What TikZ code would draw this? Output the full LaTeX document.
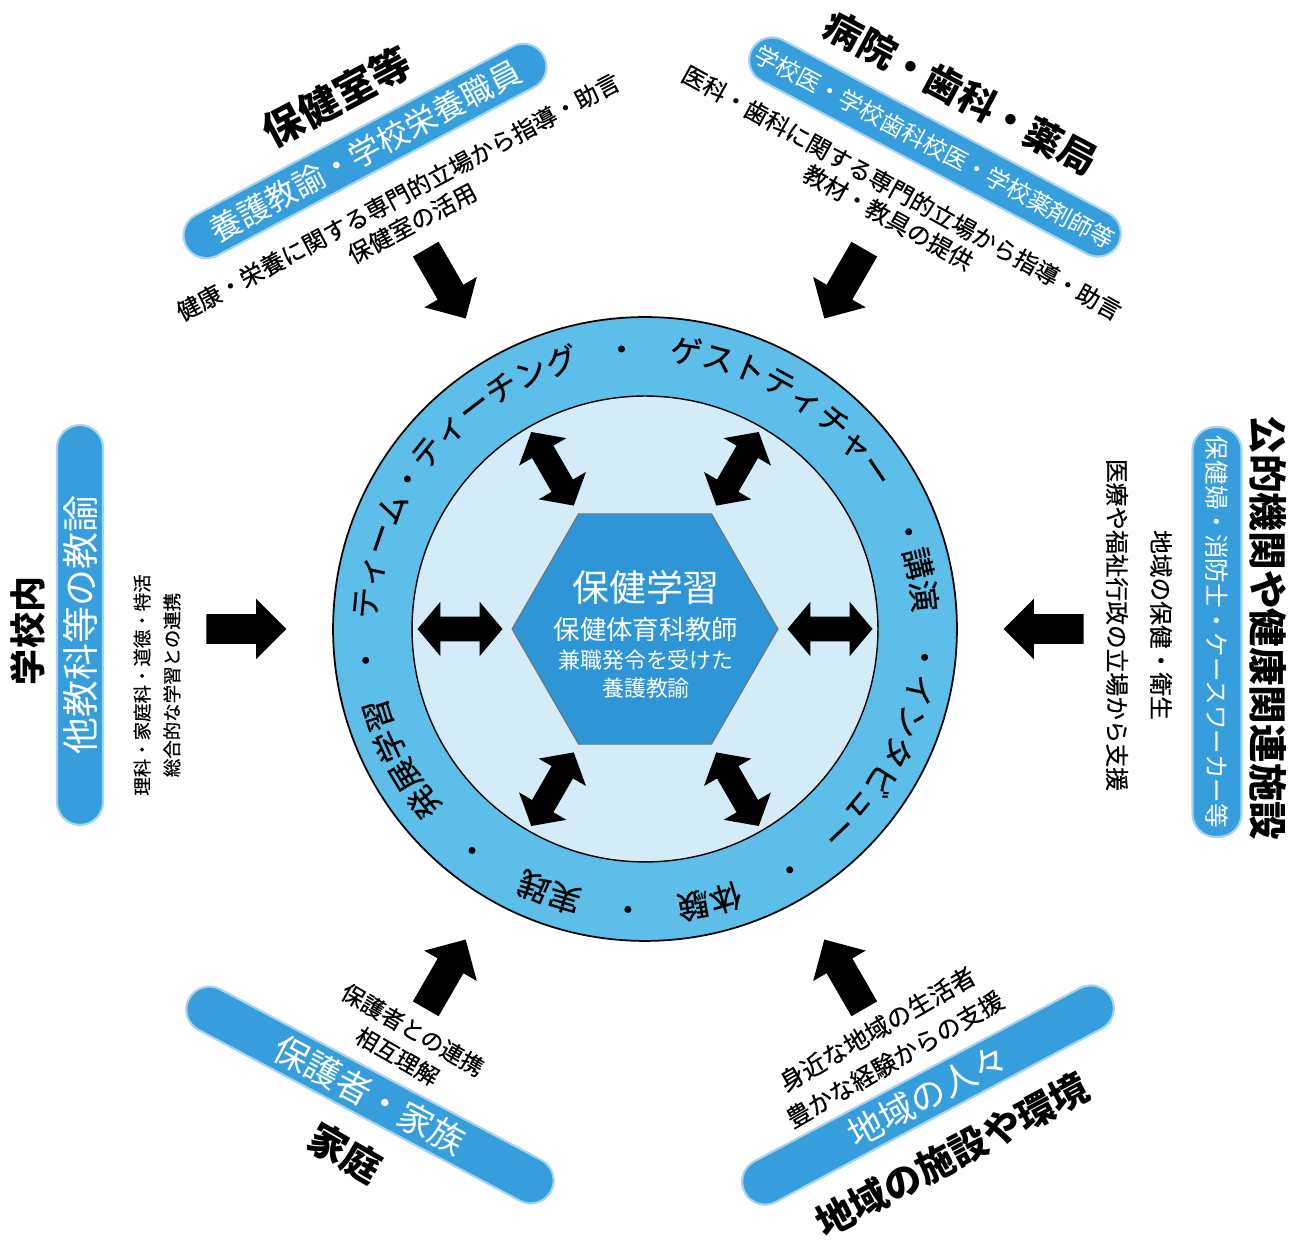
\documentclass[tikz,border=0pt]{standalone}
\usepackage{fontspec}
\setmainfont{Noto Sans CJK JP}
\newfontfamily\medfont{Noto Sans CJK JP}[FakeBold=0.6]
\usetikzlibrary{shapes.geometric, shapes.arrows, decorations.text}

\definecolor{ringblue}{RGB}{92,190,233}
\definecolor{coreblue}{RGB}{211,236,248}
\definecolor{hexblue}{RGB}{46,150,214}
\definecolor{pillblue}{RGB}{54,158,221}

\newcommand\fs[2]{\fontsize{#1}{#2}\selectfont}
\newcommand\ringfont{\medfont\fs{18pt}{20pt}}
% one piece of the text that runs round the ring, centred on an angle
\newcommand\ringseg[2]{%
  \path[decorate, decoration={text along path, text align=center, text={|\ringfont|#2}}]
    (ctr) ++({#1+50}:269) arc[start angle={#1+50}, delta angle=-100, radius=269];}

\begin{document}
\begin{tikzpicture}[
    x=0.02cm, y=0.02cm,
    pill/.style = {rectangle, rounded corners=0.46cm, fill=pillblue, draw=pillblue!45, line width=1.2pt, text=white, minimum width=8cm, minimum height=0.92cm, inner sep=0pt},
    heading/.style = {font=\fs{22pt}{26pt}\bfseries, inner sep=0pt},
    remark/.style = {font=\medfont\fs{13.5pt}{17pt}, align=center, inner sep=0pt},
    hexline/.style = {text=white, inner sep=0pt},
    inarrow/.style = {single arrow, fill=black, minimum height=1.6cm, minimum width=0pt, inner sep=0.29cm, single arrow head extend=0.31cm, single arrow tip angle=90},
    duoarrow/.style = {double arrow, fill=black, minimum height=1.7cm, minimum width=0pt, inner sep=0.24cm, double arrow head extend=0.3cm, double arrow tip angle=100}]

    \useasboundingbox (0,0) rectangle (1301,1240);
    \coordinate (ctr) at (645,611);

    % rings and centre
    \node[circle, draw, line width=1pt, fill=ringblue, minimum size=12.48cm, inner sep=0pt] (outer) at (ctr) {};
    \node[circle, draw, line width=0.8pt, fill=coreblue, minimum size=9.32cm, inner sep=0pt] (inner) at (ctr) {};
    \node[regular polygon, regular polygon sides=6, minimum size=5.32cm, inner sep=0pt, fill=hexblue, draw=black!55, line width=0.6pt] (hex) at (ctr) {};
    \node[hexline, font=\fs{21pt}{24pt}] (hexhead) at (646,653) {保健学習};
    \node[hexline, font=\fs{15pt}{18pt}] (hexteacher) at (646,610) {保健体育科教師};
    \node[hexline, font=\fs{12.5pt}{15pt}] (hexnurse1) at (646,580) {兼職発令を受けた};
    \node[hexline, font=\fs{12.5pt}{15pt}] (hexnurse2) at (646,552) {養護教諭};

    \foreach \a [count=\i] in {0,60,...,300}{
        \node[duoarrow, rotate=\a] (link\i) at ([shift={(\a:185)}]ctr) {};
        \node[inarrow, rotate=\a+180] (feed\i) at ([shift={(\a:406)}]ctr) {};
    }

    % text round the ring
    \ringseg{141}{ティーム・ティーチング}
    \ringseg{94.8}{・}
    \ringseg{58}{ゲストティチャー}
    \ringseg{13.5}{・講演}
    \ringseg{-26}{・インタビュー}
    \ringseg{-59}{・}
    \ringseg{-76.7}{体験}
    \ringseg{-93.5}{・}
    \ringseg{-110}{実践}
    \ringseg{-128}{・}
    \ringseg{-152}{発展学習}
    \ringseg{-173.6}{・}

    % upper left
    \node[heading, rotate=28, font=\fs{23pt}{26pt}\bfseries] (headTL) at (337,1143) {保健室等};
    \node[pill, rotate=28, minimum width=8.1cm, font=\fs{18pt}{20pt}] (pillTL) at (365,1089) {養護教諭・学校栄養職員};
    \node[remark, rotate=28] (noteTL) at (405,1030) {健康・栄養に関する専門的立場から指導・助言\\保健室の活用};

    % upper right
    \node[heading, rotate=-28, font=\fs{21.5pt}{26pt}\bfseries] (headTR) at (961,1147) {病院・歯科・薬局};
    \node[pill, rotate=-28, minimum width=8.3cm, font=\fs{13.5pt}{16pt}] (pillTR) at (935,1093) {学校医・学校歯科校医・学校薬剤師等};
    \node[remark, rotate=-29, font=\medfont\fs{13.5pt}{16pt}] (noteTR) at (895,1035) {医科・歯科に関する専門的立場から指導・助言\\教材・教具の提供};

    % left
    \node[heading, rotate=90, font=\fs{20.5pt}{24pt}\bfseries] (headL) at (28,609) {学校内};
    \node[pill, rotate=90, minimum width=8cm, font=\fs{21pt}{24pt}] (pillL) at (80,615) {他教科等の教諭};
    \node[remark, rotate=90, font=\medfont\fs{10.5pt}{17pt}] (noteL) at (157,555) {理科・家庭科・道徳・特活\\総合的な学習との連携};

    % right
    \node[heading, rotate=-90] (headR) at (1268,612) {公的機関や健康関連施設};
    \node[pill, rotate=-90, minimum width=8.2cm, minimum height=0.98cm, font=\fs{14pt}{16pt}] (pillR) at (1217,608) {保健婦・消防士・ケースワーカー等};
    \node[remark, rotate=-90, font=\medfont\fs{13.5pt}{25pt}] (noteR) at (1139,615) {地域の保健・衛生\\医療や福祉行政の立場から支援};

    % lower left
    \node[pill, rotate=-28, minimum width=8.2cm, font=\fs{20pt}{22pt}] (pillBL) at (370,145) {保護者・家族};
    \node[heading, rotate=-30] (headBL) at (345,87) {家庭};
    \node[remark, rotate=-30, font=\medfont\fs{13pt}{17.5pt}] (noteBL) at (405,197) {保護者との連携\\相互理解};

    % lower right
    \node[pill, rotate=28, minimum width=8.3cm, font=\fs{20pt}{22pt}] (pillBR) at (928,145) {地域の人々};
    \node[heading, rotate=28, font=\fs{21.5pt}{26pt}\bfseries] (headBR) at (952,85) {地域の施設や環境};
    \node[remark, rotate=30, font=\medfont\fs{14pt}{20pt}] (noteBR) at (886,196) {身近な地域の生活者\\豊かな経験からの支援};
\end{tikzpicture}
\end{document}
